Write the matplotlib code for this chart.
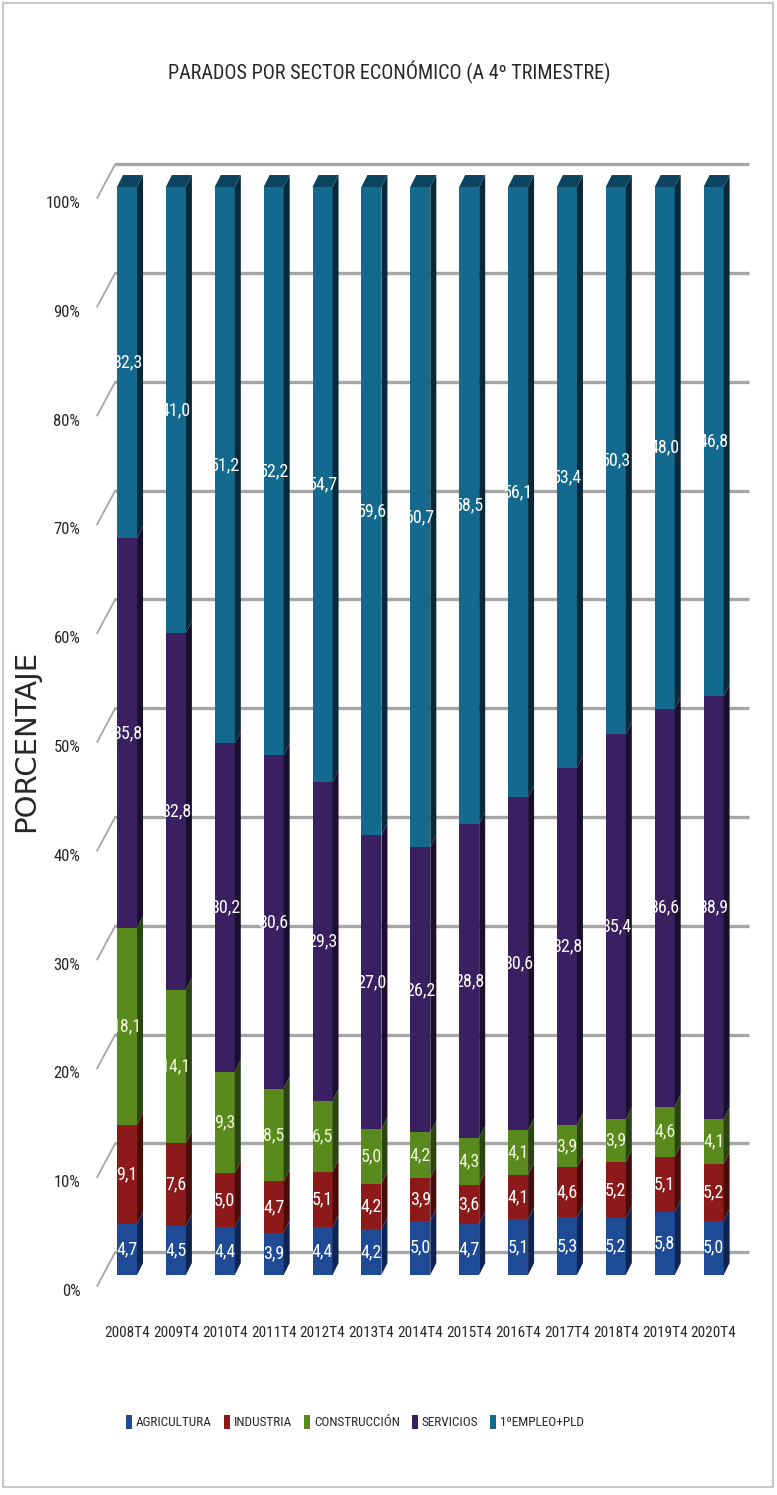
#!/usr/bin/env python3
import matplotlib
matplotlib.use("Agg")
import matplotlib.pyplot as plt
from matplotlib import font_manager as fm
from matplotlib.patches import Polygon, Patch, Rectangle
from matplotlib.transforms import ScaledTranslation

CATEGORIES = ["2008T4", "2009T4", "2010T4", "2011T4", "2012T4", "2013T4", "2014T4",
              "2015T4", "2016T4", "2017T4", "2018T4", "2019T4", "2020T4"]
AGRICULTURA = [4.7, 4.5, 4.4, 3.9, 4.4, 4.2, 5.0, 4.7, 5.1, 5.3, 5.2, 5.8, 5.0]
INDUSTRIA = [9.1, 7.6, 5.0, 4.7, 5.1, 4.2, 3.9, 3.6, 4.1, 4.6, 5.2, 5.1, 5.2]
CONSTRUCCION = [18.1, 14.1, 9.3, 8.5, 6.5, 5.0, 4.2, 4.3, 4.1, 3.9, 3.9, 4.6, 4.1]
SERVICIOS = [35.8, 32.8, 30.2, 30.6, 29.3, 27.0, 26.2, 28.8, 30.6, 32.8, 35.4, 36.6, 38.9]
EMPLEO = [32.3, 41.0, 51.2, 52.2, 54.7, 59.6, 60.7, 58.5, 56.1, 53.4, 50.3, 48.0, 46.8]
SERIES = ["AGRICULTURA", "INDUSTRIA", "CONSTRUCCIÓN", "SERVICIOS", "1ºEMPLEO+PLD"]
Y_TICKS = [0, 10, 20, 30, 40, 50, 60, 70, 80, 90, 100]

FRONT = ["#1f4a96", "#8c1a1a", "#5a8a1e", "#3a2060", "#146a8e"]
SIDE = ["#0e2452", "#4a0b0b", "#2b4510", "#1b0f30", "#072a3a"]
LABEL = ["white", "white", "#eef5d8", "white", "white"]
TOP = "#0c4460"
GRID = "#a6a6a6"
TEXT = "#262626"

names = {f.name for f in fm.fontManager.ttflist}
NARROW = next((n for n in ["Liberation Sans Narrow", "Roboto Condensed", "Open Sans Condensed"]
               if n in names), "Liberation Sans")
plt.rcParams["font.family"] = [NARROW, "DejaVu Sans"]

# 3D look (data units)
W = 0.41      # front face width
DX = 0.123    # depth in x
DY = 1.1      # depth in y
WALL_X = 0.37 # back wall offset
WALL_Y = 2.1

fig = plt.figure(figsize=(7.77, 14.95), dpi=100)
ax = fig.add_axes([90 / 777, 195 / 1495, 670 / 777, 1150 / 1495])
ax.set_xlim(-0.757, 12.95)
ax.set_ylim(-2.3, 103.4)
ax.patch.set_alpha(0)
for s in ax.spines.values():
    s.set_visible(False)

n = len(CATEGORIES)
x0 = -0.61
# back wall gridlines + diagonal connectors
for v in Y_TICKS:
    ax.plot([x0 + WALL_X, 12.72], [v + WALL_Y, v + WALL_Y], color=GRID, lw=2.4,
            solid_capstyle="butt", zorder=1)
    ax.plot([x0, x0 + WALL_X], [v - 1.0, v + WALL_Y], color=GRID, lw=1.3, zorder=1,
            clip_on=False)

data = [AGRICULTURA, INDUSTRIA, CONSTRUCCION, SERVICIOS, EMPLEO]
totals = [sum(col) for col in zip(*data)]
bottoms = [0.0] * n
for k, vals in enumerate(data):
    shares = [100 * v / t for v, t in zip(vals, totals)]
    xs = list(range(n))
    ax.bar(xs, shares, bottom=bottoms, width=W, color=FRONT[k], zorder=3, linewidth=0)
    for i in xs:
        b, t = bottoms[i], bottoms[i] + shares[i]
        xr = i + W / 2
        ax.add_patch(Polygon([(xr, b), (xr + DX, b + DY), (xr + DX, t + DY), (xr, t)],
                             closed=True, facecolor=SIDE[k], edgecolor="none", zorder=3))
        if k == len(data) - 1:
            xl = i - W / 2
            ax.add_patch(Polygon([(xl, t), (xr, t), (xr + DX, t + DY), (xl + DX, t + DY)],
                                 closed=True, facecolor=TOP, edgecolor="none", zorder=3))
        ax.text(i, (b + t) / 2, f"{vals[i]:.1f}".replace(".", ","), color=LABEL[k],
                ha="center", va="center", fontsize=13, zorder=5)
    bottoms = [b + s for b, s in zip(bottoms, shares)]

ax.set_xticks(range(n), CATEGORIES)
ax.set_yticks(Y_TICKS, [f"{v}%" for v in Y_TICKS])
ax.tick_params(axis="x", length=0, pad=19, labelsize=11, colors=TEXT)
ax.tick_params(axis="y", length=0, pad=7, labelsize=12, colors=TEXT)
offset = ScaledTranslation(0, -15 / 100, fig.dpi_scale_trans)
for lab in ax.get_yticklabels():
    lab.set_transform(lab.get_transform() + offset)

ax.set_ylabel("PORCENTAJE", family="DejaVu Sans", fontsize=21, color=TEXT)
ax.yaxis.set_label_coords(-0.0746, 0.486)

fig.text(389 / 777, 1 - 72 / 1495, "PARADOS POR SECTOR ECONÓMICO (A 4º TRIMESTRE)",
         ha="center", va="center", fontsize=14.5, color=TEXT)

handles = [Patch(facecolor=c, edgecolor="none") for c in FRONT]
fig.legend(handles, SERIES, loc="center", bbox_to_anchor=(355 / 777, 1 - 1422 / 1495),
           ncol=5, frameon=False, fontsize=9.5, handlelength=0.45, handleheight=1.3,
           handletextpad=0.3, columnspacing=0.9, labelcolor=TEXT)

fig.patches.append(Rectangle((3 / 777, 8 / 1495), 770 / 777, 1484 / 1495,
                             transform=fig.transFigure, fill=False, edgecolor="#c8c8c8",
                             lw=1.5))

fig.savefig("out.png", dpi=100)
